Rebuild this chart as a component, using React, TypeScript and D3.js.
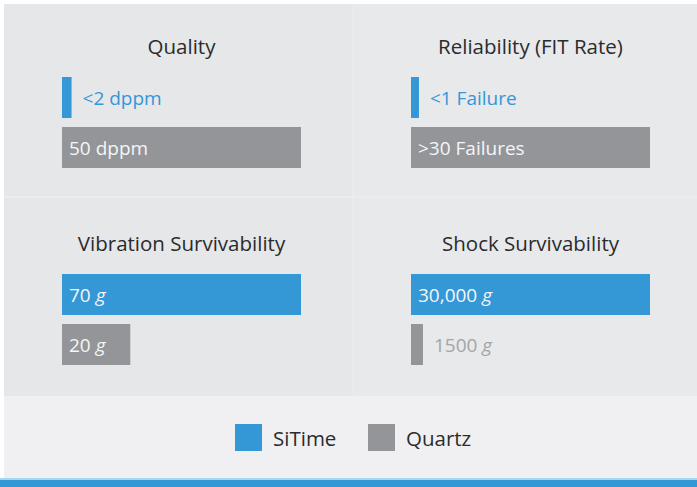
import * as React from "react";
import * as d3 from "d3";

// panel titles, in reading order
const metrics = ["Quality", "Reliability (FIT Rate)", "Vibration Survivability", "Shock Survivability"];
const sitimeValues = [2, 1, 70, 30000];
const quartzValues = [50, 30, 20, 1500];
const sitimeLabels = ["<2 dppm", "<1 Failure", "70", "30,000"];
const quartzLabels = ["50 dppm", ">30 Failures", "20", "1500"];
const italicUnit = [false, false, true, true];
const seriesNames = ["SiTime", "Quartz"];

const W = 697;
const H = 487;
const BLUE = "#3497d6";
const GRAY = "#939598";
const FONT = "'Open Sans', 'Noto Sans', sans-serif";

function Panel(props: { i: number; x: number; y: number; w: number; h: number; dy: number; fill: string }) {
  const { i, x, y, w, h, dy, fill } = props;
  const barX = 58;
  const barMax = 239;
  const barW = d3
    .scaleLinear()
    .domain([0, Math.max(sitimeValues[i], quartzValues[i])])
    .range([0, barMax]);
  const rows = d3.scaleBand().domain(seriesNames).range([73 + dy, 164 + dy]).paddingInner(0.18);

  const bar = (name: string, value: number, label: string, color: string, outsideColor: string) => {
    const bw = barW(value);
    const inside = bw > 40;
    const by = rows(name)!;
    const bh = rows.bandwidth();
    return (
      <g key={name}>
        <rect x={barX} y={by} width={bw} height={bh} fill={color} />
        <text
          x={inside ? barX + 7 : barX + bw + 11}
          y={by + bh / 2 + 7}
          fontSize={19}
          fill={inside ? "#f4f6f8" : outsideColor}
          fontFamily={FONT}
        >
          {label}
          {italicUnit[i] ? <tspan fontStyle="italic"> g</tspan> : null}
        </text>
      </g>
    );
  };

  return (
    <g transform={`translate(${x}, ${y})`}>
      <rect width={w} height={h} fill={fill} />
      <text
        x={barX + barMax / 2}
        y={50 + dy}
        textAnchor="middle"
        fontSize={20.5}
        fill="#2b2b2b"
        fontFamily={FONT}
      >
        {metrics[i]}
      </text>
      {bar("SiTime", sitimeValues[i], sitimeLabels[i], BLUE, BLUE)}
      {bar("Quartz", quartzValues[i], quartzLabels[i], GRAY, "#a3a4a6")}
    </g>
  );
}

export default function App() {
  const cols = [4, 353];
  const rowsY = [4, 198];
  const legendX = d3.scaleOrdinal<string, number>().domain(seriesNames).range([235, 368]);
  const legendColor = d3.scaleOrdinal<string, string>().domain(seriesNames).range([BLUE, GRAY]);

  return (
    <svg
      width={W}
      height={H}
      style={{ position: "absolute", left: 0, top: 0, background: "#ffffff" }}
    >
      <rect x={4} y={4} width={W - 4} height={392} fill="#ececee" />
      {metrics.map((m, i) => (
        <Panel
          key={m}
          i={i}
          x={cols[i % 2]}
          y={rowsY[Math.floor(i / 2)]}
          w={i % 2 === 0 ? 348 : 344}
          h={i < 2 ? 192 : 198}
          dy={i < 2 ? 0 : 3}
          fill={i % 2 === 0 ? "#e6e7e9" : "#e8e9eb"}
        />
      ))}
      <rect x={4} y={396} width={W - 4} height={82} fill="#f0f0f2" />
      {seriesNames.map((s) => (
        <g key={s} transform={`translate(${legendX(s)}, 424)`}>
          <rect width={27} height={27} fill={legendColor(s)} />
          <text x={38} y={22} fontSize={20.5} fill="#2b2b2b" fontFamily={FONT}>
            {s}
          </text>
        </g>
      ))}
      <rect x={0} y={478} width={W} height={2} fill="#a9d3ef" />
      <rect x={0} y={480} width={W} height={7} fill={BLUE} />
    </svg>
  );
}
